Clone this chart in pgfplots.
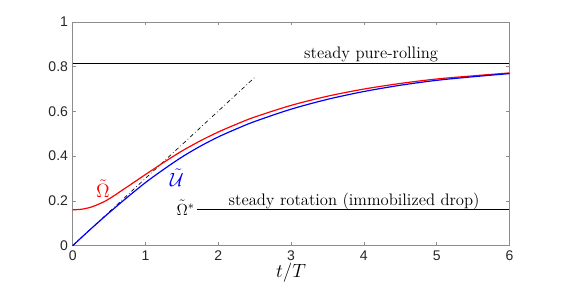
\documentclass[border=0pt]{standalone}
\usepackage{fontspec}
\usepackage{pgfplots}
\pgfplotsset{compat=1.18}
\newfontfamily\ticfont{Liberation Sans}
\definecolor{axgray}{rgb}{0.55,0.55,0.55}
\definecolor{ticgray}{rgb}{0.15,0.15,0.15}
\begin{document}
\begin{tikzpicture}[x=1pt,y=1pt]
\path[use as bounding box] (-54.5,-35.5) rectangle (367.75,184.25);
\begin{axis}[
  at={(0,0)}, anchor=south west,
  scale only axis, width=327.6pt, height=167.8pt,
  xmin=0, xmax=6, ymin=0, ymax=1,
  xtick={0,1,2,3,4,5,6}, ytick={0,0.2,0.4,0.6,0.8,1},
  yticklabels={0,0.2,0.4,0.6,0.8,1},
  tick align=inside, major tick length=2.5pt,
  axis line style={axgray, line width=0.5pt},
  every tick/.style={axgray, line width=0.5pt},
  tick label style={font=\ticfont\fontsize{10.5}{12}\selectfont, text=ticgray},
  /pgf/number format/assume math mode=true,
  xlabel={\fontsize{15}{17}\selectfont $t/T$},
  xlabel style={yshift=5pt},
  clip=false,
]
\addplot[black, line width=0.8pt] coordinates {(0,0.816) (6,0.816)};
\addplot[black, line width=0.8pt] coordinates {(1.71,0.16) (6,0.16)};
\addplot[black, line width=0.5pt, dash dot] coordinates {(0,0) (2.5,0.752)};
\addplot[red, line width=0.9pt, smooth] coordinates {
(0,0.160) (0.125,0.163) (0.25,0.172) (0.375,0.188) (0.5,0.209) (0.75,0.263)
(1.0,0.318) (1.25,0.372) (1.5,0.423) (1.75,0.468) (2.0,0.508) (2.25,0.543)
(2.5,0.575) (3.0,0.627) (3.5,0.668) (4.0,0.700) (4.5,0.725) (5.0,0.745)
(5.5,0.759) (6.0,0.772)};
\addplot[blue, line width=0.9pt, smooth] coordinates {
(0,0.000) (0.25,0.075) (0.5,0.147) (0.75,0.216) (1.0,0.282) (1.25,0.341)
(1.5,0.396) (1.75,0.444) (2.0,0.486) (2.25,0.522) (2.5,0.555) (3.0,0.610)
(3.5,0.654) (4.0,0.689) (4.5,0.717) (5.0,0.739) (5.5,0.755) (6.0,0.769)};
\node[anchor=base, font=\fontsize{12.5}{14}\selectfont, inner sep=0pt] at (axis cs:4.1,0.835) {steady pure-rolling};
\node[anchor=base west, font=\fontsize{12.5}{14}\selectfont, inner sep=0pt] at (axis cs:2.14,0.178) {steady rotation (immobilized drop)};
\node[anchor=base east, font=\fontsize{12.5}{14}\selectfont, inner sep=0pt] at (axis cs:1.68,0.137) {$\tilde{\Omega}^{*}$};
\node[red, font=\fontsize{14}{16}\selectfont, inner sep=0pt] at (axis cs:0.416,0.256) {$\tilde{\Omega}$};
\node[blue, font=\fontsize{14}{16}\selectfont, inner sep=0pt] at (axis cs:1.43,0.305) {$\tilde{\mathcal{U}}$};
\end{axis}
\end{tikzpicture}
\end{document}
